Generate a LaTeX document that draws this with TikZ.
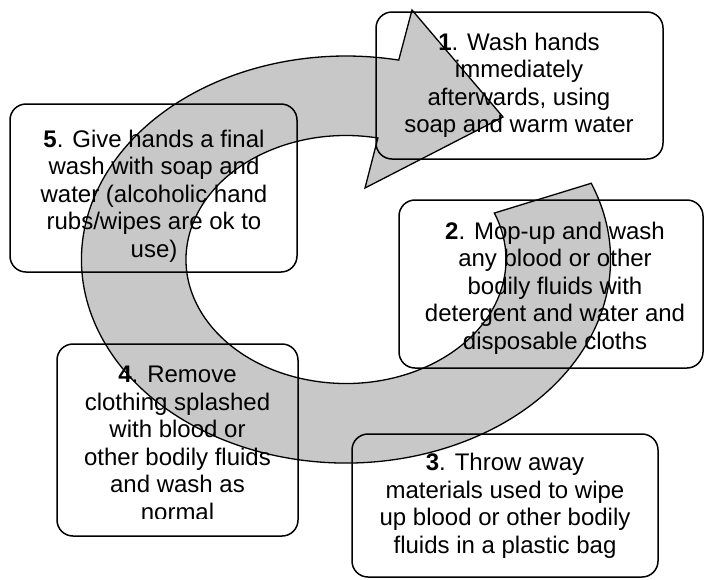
\documentclass[tikz,border=0pt]{standalone}
\usepackage{fontspec}
\setmainfont{Liberation Sans}
\usetikzlibrary{calc}
\definecolor{arrowgrey}{RGB}{200,200,200}
\tikzset{
  box/.style={draw=black, line width=1.5pt, rounded corners=16pt, fill=none, inner sep=0pt, outer sep=0pt},
  txt/.style={align=center, inner sep=0pt, outer sep=0pt, anchor=north, font=\fontsize{24}{27.5}\selectfont},
  bigarrow/.style={draw=black, line width=1.3pt, fill=arrowgrey, line join=miter}
}
\newcommand{\boxat}[5]{% name, x1, y1, x2, y2 (pixel coords, y down)
  \node[box, minimum width=#4pt-#2pt, minimum height=#5pt-#3pt] (#1) at ({(#2+#4)/2*1pt}, {-(#3+#5)/2*1pt}) {};}
\begin{document}
\begin{tikzpicture}[x=1pt,y=1pt]
\useasboundingbox (0,0) rectangle (704,-579);
\coordinate (C) at (346,-259.5);
% circular arrow
\coordinate (ht) at (412,-10);
\coordinate (tip) at (503,-117);
\coordinate (hb) at (365,-188);
\path[bigarrow] ($(C)+(22:264.5pt and 203.5pt)$)
  arc[start angle=22, end angle=-281.5, x radius=264.5pt, y radius=203.5pt]
  -- (ht) -- (tip) -- (hb)
  -- ($(C)+(-281.5:160pt and 124pt)$)
  arc[start angle=-281.5, end angle=22, x radius=160pt, y radius=124pt]
  -- cycle;
% boxes
\boxat{b1}{376}{12}{663}{159}
\boxat{b5}{10}{104}{297}{272}
\boxat{b2}{399}{200}{703}{368}
\boxat{b4}{57}{344}{298}{536}
\boxat{b3}{352}{434}{658}{577}
% texts
\node[txt] (t1) at (519,-32.8) {\textbf{1}. Wash hands\\immediately\\afterwards, using\\soap and warm water};
\node[txt] (t5) at (154,-130) {\textbf{5}. Give hands a final\\wash with soap and\\water (alcoholic hand\\rubs/wipes are ok to\\use)};
\node[txt] (t2) at (555,-222) {\textbf{2}. Mop-up and wash\\any blood or other\\bodily fluids with\\detergent and water and\\disposable cloths};
\begin{scope}
\clip (57,-344) rectangle (298,-518.5);
\node[txt] (t4) at (177.5,-366) {\textbf{4}. Remove\\clothing splashed\\with blood or\\other bodily fluids\\and wash as\\normal};
\end{scope}
\node[txt] (t3) at (505,-453.5) {\textbf{3}. Throw away\\materials used to wipe\\up blood or other bodily\\fluids in a plastic bag};
\end{tikzpicture}
\end{document}
